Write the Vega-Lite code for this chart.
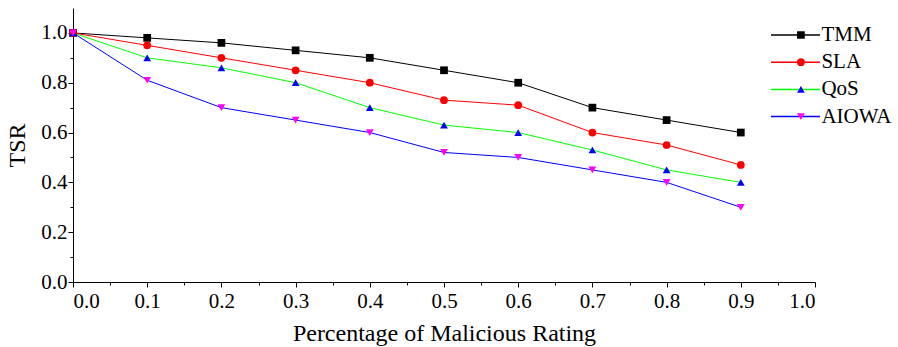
{
  "$schema": "https://vega.github.io/schema/vega-lite/v6.json",
  "width": 742,
  "height": 274,
  "autosize": {"type": "none"},
  "padding": {"left": 73, "top": 8, "right": 83, "bottom": 65},
  "background": "white",
  "config": {
    "view": {"stroke": null},
    "font": "Liberation Serif, serif",
    "axis": {
      "grid": false,
      "domainColor": "black",
      "domainWidth": 1,
      "tickColor": "black",
      "tickWidth": 1,
      "tickSize": 5,
      "labelColor": "black",
      "labelFont": "Liberation Serif, serif",
      "labelFontSize": 21,
      "labelPadding": 2,
      "titleColor": "black",
      "titleFont": "Liberation Serif, serif",
      "titleFontSize": 24,
      "titleFontWeight": "normal"
    }
  },
  "data": {
    "values": [
      {"p": 0.0, "s": "TMM", "v": 1.0},
      {"p": 0.1, "s": "TMM", "v": 0.98},
      {"p": 0.2, "s": "TMM", "v": 0.96},
      {"p": 0.3, "s": "TMM", "v": 0.93},
      {"p": 0.4, "s": "TMM", "v": 0.90},
      {"p": 0.5, "s": "TMM", "v": 0.85},
      {"p": 0.6, "s": "TMM", "v": 0.80},
      {"p": 0.7, "s": "TMM", "v": 0.70},
      {"p": 0.8, "s": "TMM", "v": 0.65},
      {"p": 0.9, "s": "TMM", "v": 0.60},
      {"p": 0.0, "s": "SLA", "v": 1.0},
      {"p": 0.1, "s": "SLA", "v": 0.95},
      {"p": 0.2, "s": "SLA", "v": 0.90},
      {"p": 0.3, "s": "SLA", "v": 0.85},
      {"p": 0.4, "s": "SLA", "v": 0.80},
      {"p": 0.5, "s": "SLA", "v": 0.73},
      {"p": 0.6, "s": "SLA", "v": 0.71},
      {"p": 0.7, "s": "SLA", "v": 0.60},
      {"p": 0.8, "s": "SLA", "v": 0.55},
      {"p": 0.9, "s": "SLA", "v": 0.47},
      {"p": 0.0, "s": "QoS", "v": 1.0},
      {"p": 0.1, "s": "QoS", "v": 0.90},
      {"p": 0.2, "s": "QoS", "v": 0.86},
      {"p": 0.3, "s": "QoS", "v": 0.80},
      {"p": 0.4, "s": "QoS", "v": 0.70},
      {"p": 0.5, "s": "QoS", "v": 0.63},
      {"p": 0.6, "s": "QoS", "v": 0.60},
      {"p": 0.7, "s": "QoS", "v": 0.53},
      {"p": 0.8, "s": "QoS", "v": 0.45},
      {"p": 0.9, "s": "QoS", "v": 0.40},
      {"p": 0.0, "s": "AIOWA", "v": 1.0},
      {"p": 0.1, "s": "AIOWA", "v": 0.81},
      {"p": 0.2, "s": "AIOWA", "v": 0.70},
      {"p": 0.3, "s": "AIOWA", "v": 0.65},
      {"p": 0.4, "s": "AIOWA", "v": 0.60},
      {"p": 0.5, "s": "AIOWA", "v": 0.52},
      {"p": 0.6, "s": "AIOWA", "v": 0.50},
      {"p": 0.7, "s": "AIOWA", "v": 0.45},
      {"p": 0.8, "s": "AIOWA", "v": 0.40},
      {"p": 0.9, "s": "AIOWA", "v": 0.30}
    ]
  },
  "layer": [
    {
      "mark": {"type": "line", "strokeWidth": 1},
      "encoding": {
        "x": {
          "field": "p", "type": "quantitative",
          "scale": {"domain": [0, 1], "nice": false, "zero": false},
          "axis": {"orient": "bottom", "values": [0, 0.1, 0.2, 0.3, 0.4, 0.5, 0.6, 0.7, 0.8, 0.9, 1.0], "format": ".1f", "title": "Percentage of Malicious Rating", "titlePadding": 10, "labelPadding": 3}
        },
        "y": {
          "field": "v", "type": "quantitative",
          "scale": {"domain": [0, 1.1], "nice": false},
          "axis": {"orient": "left", "values": [0, 0.2, 0.4, 0.6, 0.8, 1.0], "format": ".1f", "title": "TSR", "titlePadding": 11, "labelPadding": 1}
        },
        "color": {
          "field": "s", "type": "nominal",
          "sort": ["TMM", "SLA", "QoS", "AIOWA"],
          "scale": {"range": ["#000000", "#ff0000", "#00ff00", "#0000ff"]},
          "legend": {
            "orient": "none", "legendX": 697, "legendY": 16, "title": null,
            "symbolType": "stroke", "symbolSize": 2401, "symbolStrokeWidth": 1.5,
            "labelExpr": "''", "labelFontSize": 10,
            "clipHeight": 22, "rowPadding": 5.2, "padding": 0
          }
        }
      }
    },
    {
      "mark": {"type": "point", "filled": true, "opacity": 1, "strokeWidth": 0},
      "encoding": {
        "x": {"field": "p", "type": "quantitative", "scale": {"domain": [0, 1], "nice": false, "zero": false}, "axis": null},
        "y": {"field": "v", "type": "quantitative", "scale": {"domain": [0, 1.1], "nice": false}, "axis": null},
        "fill": {
          "field": "s", "type": "nominal",
          "scale": {"domain": ["TMM", "SLA", "QoS", "AIOWA"], "range": ["#000000", "#ff0000", "#0000ff", "#ff00ff"]},
          "legend": {
            "orient": "none", "legendX": 717.4, "legendY": 16, "title": null,
            "symbolSize": 60, "symbolStrokeWidth": 0, "symbolOpacity": 1,
            "labelFont": "Liberation Serif, serif", "labelFontSize": 21, "labelColor": "black", "labelOffset": 10,
            "clipHeight": 22, "rowPadding": 5.2, "padding": 0
          }
        },
        "shape": {
          "field": "s", "type": "nominal",
          "scale": {"domain": ["TMM", "SLA", "QoS", "AIOWA"], "range": ["square", "circle", "triangle-up", "triangle-down"]},
          "legend": {
            "orient": "none", "legendX": 717.4, "legendY": 16, "title": null,
            "symbolSize": 60, "symbolStrokeWidth": 0, "symbolOpacity": 1,
            "labelFont": "Liberation Serif, serif", "labelFontSize": 21, "labelColor": "black", "labelOffset": 10,
            "clipHeight": 22, "rowPadding": 5.2, "padding": 0
          }
        },
        "size": {"value": 60}
      }
    },
    {
      "mark": {"type": "point", "opacity": 0},
      "encoding": {
        "x": {
          "field": "p", "type": "quantitative",
          "scale": {"domain": [0, 1], "nice": false, "zero": false},
          "axis": {"orient": "bottom", "values": [0.05, 0.15, 0.25, 0.35, 0.45, 0.55, 0.65, 0.75, 0.85, 0.95], "labels": false, "domain": false, "tickSize": 3, "title": null}
        },
        "y": {
          "field": "v", "type": "quantitative",
          "scale": {"domain": [0, 1.1], "nice": false},
          "axis": {"orient": "left", "values": [0.1, 0.3, 0.5, 0.7, 0.9], "labels": false, "domain": false, "tickSize": 3, "title": null}
        }
      }
    }
  ],
  "resolve": {"axis": {"x": "independent", "y": "independent"}}
}
